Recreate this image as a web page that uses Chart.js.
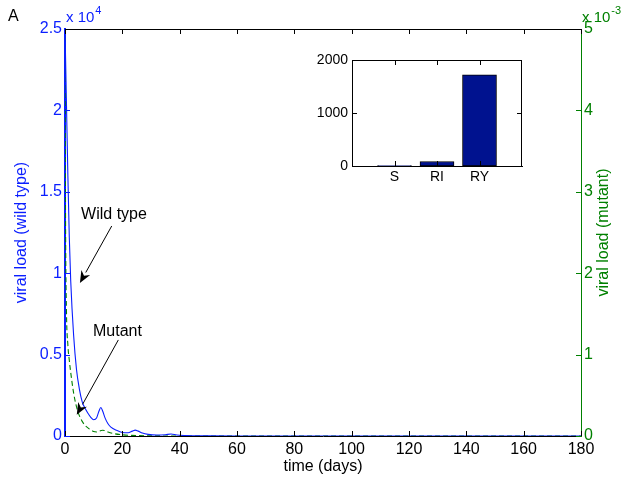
<!DOCTYPE html>
<html>
<head>
<meta charset="utf-8">
<script src="https://cdn.jsdelivr.net/npm/chart.js@4.4.1/dist/chart.umd.min.js"></script>
<style>
  html, body { margin: 0; padding: 0; background: #fff; }
  #wrap { position: relative; width: 626px; height: 477px; }
  #mainChart { position: absolute; left: 0; top: 0; }
  #insetChart { position: absolute; left: 300px; top: 40px; }
</style>
</head>
<body>
<div id="wrap">
  <canvas id="mainChart" width="626" height="477"></canvas>
  <canvas id="insetChart" width="226" height="150"></canvas>
</div>
<script>
/* ── Data ───────────────────────────────────────────────── */
// wild type viral load, in units of 1e4
const T_WILD   = [0, 0.5, 1, 1.5, 2, 3, 4, 5, 6, 7, 8, 9, 10, 11, 11.8, 12.5, 13.2, 14, 15, 16, 18, 20, 22, 23.5, 24.5, 25.5, 27, 29, 32, 35, 37, 39, 42, 50, 60, 180];
const WILD_E4  = [2.5, 2.05, 1.6, 1.22, 0.95, 0.62, 0.41, 0.29, 0.21, 0.17, 0.14, 0.115, 0.1, 0.11, 0.15, 0.175, 0.15, 0.11, 0.075, 0.055, 0.035, 0.022, 0.02, 0.03, 0.036, 0.03, 0.018, 0.01, 0.006, 0.008, 0.012, 0.006, 0.003, 0.001, 0, 0];
// mutant viral load, in units of 1e-3
const T_MUT    = [0, 0.2, 0.5, 1, 1.5, 2, 3, 4, 5, 6, 7, 8, 9, 10, 11, 12, 13, 14, 15, 17, 20, 25, 30, 40, 180];
const MUT_E3   = [5.0, 2.6, 1.55, 1.12, 0.93, 0.78, 0.53, 0.36, 0.25, 0.18, 0.13, 0.1, 0.075, 0.055, 0.05, 0.06, 0.07, 0.065, 0.05, 0.03, 0.015, 0.005, 0.002, 0, 0];

const X_MAX    = 180, X_STEP = 20;
const WILD_MAX = 2.5, WILD_STEP = 0.5;
const MUT_MAX  = 5,   MUT_STEP  = 1;

// inset bars
const BAR_LABELS = ['S', 'RI', 'RY'];
const BAR_VALUES = [10, 85, 1720];
const BAR_MAX    = 2000, BAR_STEP = 1000;

/* ── Style ──────────────────────────────────────────────── */
const BLUE  = '#0a1eff';
const GREEN = '#008000';
const BAR   = '#00128f';
const FONT  = "'Liberation Sans', Arial, sans-serif";
Chart.defaults.font.family = FONT;
Chart.defaults.color = '#000';

const pts = (xs, ys) => xs.map((x, i) => ({ x, y: ys[i] }));

/* ── Inward tick marks + closing box lines ─────────────── */
const boxTicks = {
    id: 'boxTicks',
    afterDatasetsDraw(chart, args, opts) {
        const { ctx, chartArea: a } = chart;
        const len = 5;
        ctx.save();
        ctx.lineWidth = 1;
        Object.values(chart.scales).forEach(s => {
            ctx.strokeStyle = s.options.border.color;
            s.ticks.forEach((tk, i) => {
                if (s.type === 'category' && !chart.data.labels[tk.value]) return;
                const p = Math.round(s.getPixelForTick(i)) + 0.5;
                ctx.beginPath();
                if (s.isHorizontal()) {
                    ctx.moveTo(p, a.bottom); ctx.lineTo(p, a.bottom - len);
                    ctx.moveTo(p, a.top);    ctx.lineTo(p, a.top + len);
                } else if (s.position === 'left') {
                    ctx.moveTo(a.left, p); ctx.lineTo(a.left + len, p);
                    if (opts.mirrorY) { ctx.moveTo(a.right, p); ctx.lineTo(a.right - len, p); }
                } else {
                    ctx.moveTo(a.right, p); ctx.lineTo(a.right - len, p);
                }
                ctx.stroke();
            });
        });
        // top edge, and right edge where there is no right axis
        ctx.strokeStyle = '#000';
        ctx.beginPath();
        ctx.moveTo(a.left, a.top + 0.5); ctx.lineTo(a.right, a.top + 0.5);
        if (opts.mirrorY) { ctx.moveTo(a.right - 0.5, a.top); ctx.lineTo(a.right - 0.5, a.bottom); }
        ctx.stroke();
        ctx.restore();
    }
};

/* ── Labels, exponents and arrows on the main chart ─────── */
const ARROWS = [
    { text: 'Wild type', at: [17.1, 1.36], from: [16.3, 1.29], to: [5.2, 0.94] },
    { text: 'Mutant',    at: [18.3, 0.64], from: [18.6, 0.59], to: [4.1, 0.13] },
];

function expLabel(ctx, x, y, base, exp, color) {
    ctx.fillStyle = color;
    ctx.font = `15px ${FONT}`;
    ctx.textAlign = 'left';
    ctx.textBaseline = 'alphabetic';
    ctx.fillText(base, x, y);
    const w = ctx.measureText(base).width;
    ctx.font = `11px ${FONT}`;
    ctx.fillText(exp, x + w + 1, y - 8);
}

const decorations = {
    id: 'decorations',
    afterDraw(chart) {
        const { ctx, chartArea: a, scales } = chart;
        const sx = scales.x, sy = scales.y;
        ctx.save();

        ctx.fillStyle = '#000';
        ctx.font = `16px ${FONT}`;
        ctx.textBaseline = 'middle';
        ctx.fillText('A', 8, 17);

        expLabel(ctx, a.left + 1, 22, 'x 10', '4', BLUE);
        expLabel(ctx, a.right + 1, 22, 'x 10', '-3', GREEN);

        // right axis title, reading upwards like the left one
        ctx.save();
        ctx.translate(604, (a.top + a.bottom) / 2);
        ctx.rotate(-Math.PI / 2);
        ctx.fillStyle = GREEN;
        ctx.font = `16px ${FONT}`;
        ctx.textAlign = 'center';
        ctx.textBaseline = 'middle';
        ctx.fillText('viral load (mutant)', 0, 0);
        ctx.restore();

        ARROWS.forEach(ar => {
            const tx = sx.getPixelForValue(ar.at[0]), ty = sy.getPixelForValue(ar.at[1]);
            const x0 = sx.getPixelForValue(ar.from[0]), y0 = sy.getPixelForValue(ar.from[1]);
            const x1 = sx.getPixelForValue(ar.to[0]),   y1 = sy.getPixelForValue(ar.to[1]);
            ctx.fillStyle = '#000';
            ctx.font = `16px ${FONT}`;
            ctx.textAlign = 'center';
            ctx.textBaseline = 'middle';
            ctx.fillText(ar.text, tx, ty);

            const ang = Math.atan2(y1 - y0, x1 - x0);
            const hl = 12, hw = 5;
            const bx = x1 - hl * Math.cos(ang), by = y1 - hl * Math.sin(ang);
            ctx.strokeStyle = '#000';
            ctx.lineWidth = 1;
            ctx.beginPath();
            ctx.moveTo(x0, y0); ctx.lineTo(bx, by);
            ctx.stroke();
            ctx.beginPath();
            ctx.moveTo(x1, y1);
            ctx.lineTo(bx + hw * Math.sin(ang), by - hw * Math.cos(ang));
            ctx.lineTo(x1 - hl * 0.7 * Math.cos(ang), y1 - hl * 0.7 * Math.sin(ang));
            ctx.lineTo(bx - hw * Math.sin(ang), by + hw * Math.cos(ang));
            ctx.closePath();
            ctx.fill();
        });
        ctx.restore();
    }
};

/* ── Main chart ─────────────────────────────────────────── */
new Chart(document.getElementById('mainChart'), {
    type: 'line',
    data: {
        datasets: [
            {
                label: 'Wild type',
                data: pts(T_WILD, WILD_E4),
                yAxisID: 'y',
                borderColor: BLUE,
                borderWidth: 1.1,
                pointRadius: 0,
                cubicInterpolationMode: 'monotone',
            },
            {
                label: 'Mutant',
                data: pts(T_MUT, MUT_E3),
                yAxisID: 'y2',
                borderColor: GREEN,
                borderWidth: 1.1,
                borderDash: [5, 3],
                pointRadius: 0,
                cubicInterpolationMode: 'monotone',
            },
        ]
    },
    options: {
        responsive: false,
        animation: false,
        layout: { padding: { top: 29, left: 0, right: 0, bottom: 0 } },
        plugins: { legend: { display: false }, tooltip: { enabled: false }, boxTicks: { mirrorY: false } },
        scales: {
            x: {
                type: 'linear', min: 0, max: X_MAX,
                grid: { display: false, drawTicks: false },
                border: { display: true, color: '#000', width: 1 },
                ticks: { stepSize: X_STEP, padding: 4, color: '#000', font: { size: 16 }, maxRotation: 0 },
                title: { display: true, text: 'time (days)', color: '#000', font: { size: 16 }, padding: { top: 0, bottom: 1 } },
                afterFit: s => { s.height = 41; },
            },
            y: {
                position: 'left', min: 0, max: WILD_MAX,
                grid: { display: false, drawTicks: false },
                border: { display: true, color: BLUE, width: 2 },
                ticks: { stepSize: WILD_STEP, padding: 3, color: BLUE, font: { size: 16 }, callback: v => String(v) },
                title: { display: true, text: 'viral load (wild type)', color: BLUE, font: { size: 16 }, padding: { top: 12, bottom: 0 } },
                afterFit: s => { s.width = 65; },
            },
            y2: {
                position: 'right', min: 0, max: MUT_MAX,
                grid: { display: false, drawTicks: false },
                border: { display: true, color: GREEN, width: 1 },
                ticks: { stepSize: MUT_STEP, padding: 3, color: GREEN, font: { size: 16 }, callback: v => String(v) },
                afterFit: s => { s.width = 45; },
            },
        }
    },
    plugins: [boxTicks, decorations]
});

/* ── Inset bar chart ────────────────────────────────────── */
new Chart(document.getElementById('insetChart'), {
    type: 'bar',
    data: {
        labels: ['', ...BAR_LABELS, ''],
        datasets: [{
            data: [null, ...BAR_VALUES, null],
            backgroundColor: BAR,
            borderColor: '#000',
            borderWidth: 1,
            borderSkipped: false,
            barThickness: 34,
        }]
    },
    options: {
        responsive: false,
        animation: false,
        layout: { padding: { top: 20, right: 4, left: 0, bottom: 0 } },
        plugins: {
            legend: { display: false }, tooltip: { enabled: false },
            boxTicks: { mirrorY: true },
        },
        scales: {
            x: {
                offset: false,
                grid: { display: false, drawTicks: false, offset: false },
                border: { display: true, color: '#000', width: 1 },
                ticks: { padding: 3, color: '#000', font: { size: 14 }, autoSkip: false, maxRotation: 0 },
                afterFit: s => { s.height = 24; },
            },
            y: {
                min: 0, max: BAR_MAX,
                grid: { display: false, drawTicks: false },
                border: { display: true, color: '#000', width: 1 },
                ticks: { stepSize: BAR_STEP, padding: 4, color: '#000', font: { size: 14 }, callback: v => String(v) },
                afterFit: s => { s.width = 52; },
            },
        }
    },
    plugins: [{
        id: 'insetBg',
        beforeDraw(chart) {
            const { ctx, chartArea: a } = chart;
            ctx.save();
            ctx.fillStyle = '#fff';
            ctx.fillRect(a.left, a.top, a.right - a.left, a.bottom - a.top);
            ctx.restore();
        }
    }, boxTicks]
});
</script>
</body>
</html>
